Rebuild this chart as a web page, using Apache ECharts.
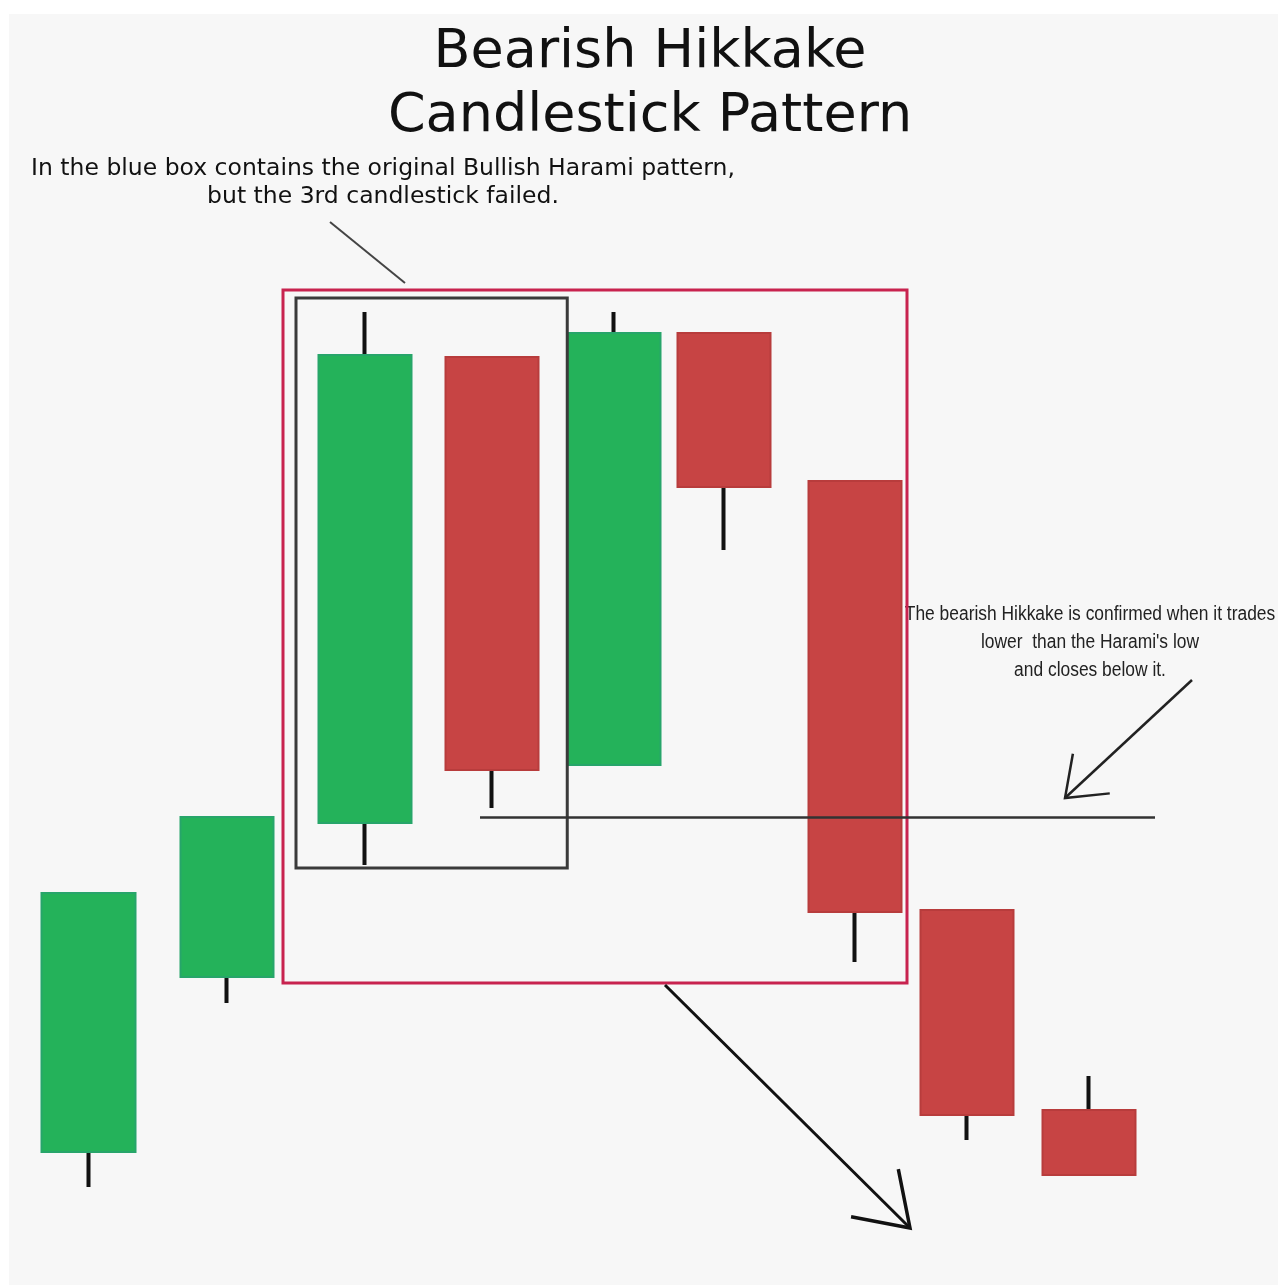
<!DOCTYPE html>
<html>
<head>
<meta charset="utf-8">
<title>Bearish Hikkake Candlestick Pattern</title>
<script src="https://cdn.jsdelivr.net/npm/echarts@6/dist/echarts.min.js"></script>
<style>
  html, body { margin: 0; padding: 0; background: #fff; }
  #chart { position: absolute; left: 9px; top: 14px; width: 1269px; height: 1271px; background: #f7f7f7; }
</style>
</head>
<body>
<div id="chart"></div>
<script>
// candle positions along the x axis (hand-drawn, so not evenly spaced)
const sessions = [0, 1.108, 2.212, 3.228, 4.204, 5.084, 6.132, 7.028, 8.004]
const opens  = [8.8, 26.3, 41.7, 88.3, 47.5, 90.7, 75.9, 33.0, 13.0]
const closes = [34.7, 42.3, 88.5, 47.0, 90.7, 75.3, 32.8, 12.5, 6.5]
const lows   = [5.3, 23.7, 37.5, 43.2, 47.5, 69.0, 27.8, 10.0, 6.5]
const highs  = [34.7, 42.3, 92.8, 88.3, 92.8, 90.7, 75.9, 33.0, 16.4]

// annotation levels (x in sessions, y in price)
const haramiLow = 42.3
const redBox = [[1.556, 95.0], [6.548, 25.7]]
const haramiBox = [[1.66, 94.2], [3.83, 37.2]]
const noteLine = [[1.932, 101.8], [2.532, 95.7]]
const confirmArrow = [[8.828, 56.0], [7.812, 44.2]]
const bigArrow = [[4.612, 25.5], [6.572, 1.2]]

const GREEN = '#24b25a'
const RED = '#c74444'
const INK = '#111'

const chart = echarts.init(document.getElementById('chart'))

const wickData = sessions.map((x, i) => {
  const mid = (opens[i] + closes[i]) / 2
  return [x, mid, mid, lows[i], highs[i]]
})
const bodyData = sessions.map((x, i) => [
  x, opens[i], closes[i],
  Math.min(opens[i], closes[i]), Math.max(opens[i], closes[i])
])

const option = {
  animation: false,
  title: [
    {
      text: 'Bearish Hikkake\nCandlestick Pattern',
      left: 641,
      top: 7,
      padding: 0,
      textAlign: 'center',
      textStyle: { fontFamily: 'DejaVu Sans', fontSize: 54, fontWeight: 'normal', color: INK, lineHeight: 64 }
    },
    {
      text: 'In the blue box contains the original Bullish Harami pattern,\nbut the 3rd candlestick failed.',
      left: 374,
      top: 141,
      padding: 0,
      textAlign: 'center',
      textStyle: { fontFamily: 'DejaVu Sans', fontSize: 23.5, fontWeight: 'normal', color: INK, lineHeight: 28 }
    }
  ],
  grid: { left: 17, right: 2, top: 126, bottom: 45 },
  xAxis: { type: 'value', min: -0.5, max: 9.5, show: false },
  yAxis: { type: 'value', min: 0, max: 110, show: false },
  series: [
    {
      // black wicks
      type: 'candlestick',
      silent: true,
      z: 2,
      barWidth: 4,
      data: wickData,
      itemStyle: {
        color: INK, color0: INK,
        borderColor: INK, borderColor0: INK, borderColorDoji: INK,
        borderWidth: 4
      }
    },
    {
      // coloured bodies
      type: 'candlestick',
      silent: true,
      z: 3,
      barWidth: 94,
      data: bodyData,
      itemStyle: {
        color: GREEN, color0: RED,
        borderColor: '#27a56a', borderColor0: '#b83c3c',
        borderWidth: 2
      },
      markArea: {
        silent: true,
        z: 4,
        data: [
          [
            { coord: redBox[0], itemStyle: { color: 'rgba(0,0,0,0)', borderColor: '#c8234f', borderWidth: 3 } },
            { coord: redBox[1] }
          ],
          [
            { coord: haramiBox[0], itemStyle: { color: 'rgba(0,0,0,0)', borderColor: '#3a3a3a', borderWidth: 3 } },
            { coord: haramiBox[1] }
          ]
        ]
      },
      markLine: {
        silent: true,
        symbol: 'none',
        label: { show: false },
        z: 6,
        data: [
          [
            { coord: [3.132, haramiLow], lineStyle: { color: '#333', width: 2.5, type: 'solid' } },
            { coord: [8.532, haramiLow] }
          ],
          [
            { coord: noteLine[0], lineStyle: { color: '#444', width: 2, type: 'solid' } },
            { coord: noteLine[1] }
          ],
          [
            { coord: confirmArrow[0], lineStyle: { color: '#222', width: 2.5, type: 'solid' } },
            { coord: confirmArrow[1] }
          ],
          [
            { coord: bigArrow[0], lineStyle: { color: INK, width: 3, type: 'solid' } },
            { coord: bigArrow[1] }
          ]
        ]
      }
    }
  ]
}

chart.setOption(option)

// open "V" arrow heads at the end of the arrows
function arrowHead(from, to, len, spreadDeg) {
  const a = chart.convertToPixel({ gridIndex: 0 }, from)
  const b = chart.convertToPixel({ gridIndex: 0 }, to)
  const back = Math.atan2(a[1] - b[1], a[0] - b[0])
  const s = spreadDeg * Math.PI / 180
  return [
    [b[0] + len * Math.cos(back - s), b[1] + len * Math.sin(back - s)],
    b,
    [b[0] + len * Math.cos(back + s), b[1] + len * Math.sin(back + s)]
  ]
}

chart.setOption({
  graphic: [
    {
      type: 'polyline',
      silent: true,
      z: 10,
      shape: { points: arrowHead(confirmArrow[0], confirmArrow[1], 45, 37) },
      style: { stroke: '#222', lineWidth: 2.5, fill: null }
    },
    {
      type: 'polyline',
      silent: true,
      z: 10,
      shape: { points: arrowHead(bigArrow[0], bigArrow[1], 60, 34) },
      style: { stroke: INK, lineWidth: 3.5, fill: null }
    },
    {
      type: 'group',
      x: 1081,
      y: 628,
      scaleX: 0.87,
      silent: true,
      children: [
        {
          type: 'text',
          style: {
            text: "The bearish Hikkake is confirmed when it trades\nlower  than the Harami's low\nand closes below it.",
            x: 0,
            y: 0,
            align: 'center',
            verticalAlign: 'middle',
            textAlign: 'center',
            textVerticalAlign: 'middle',
            font: '20px "Liberation Sans"',
            lineHeight: 28,
            fill: '#222'
          }
        }
      ]
    }
  ]
})

window.addEventListener('resize', () => chart.resize())
</script>
</body>
</html>
